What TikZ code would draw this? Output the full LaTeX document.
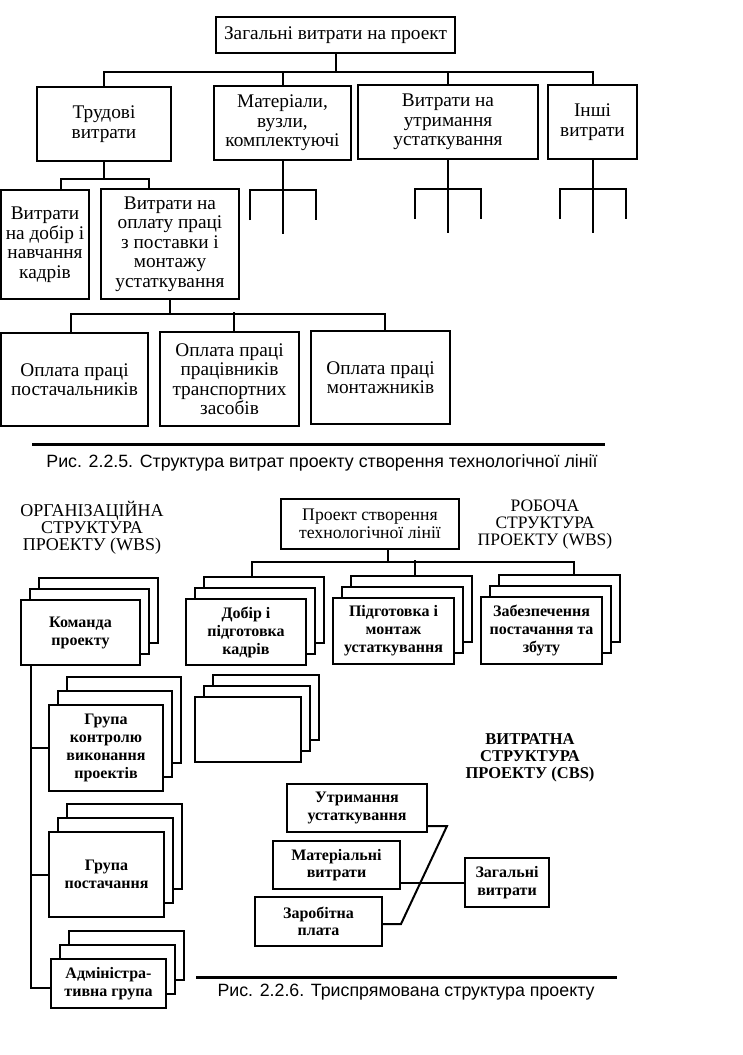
\documentclass[tikz,border=0pt]{standalone}
\usepackage{fontspec}
\setmainfont{Liberation Serif}
\newfontfamily\capfont{Liberation Sans}
\usetikzlibrary{shadows}

\tikzset{
  box/.style={draw, line width=2pt, fill=white, align=center, inner sep=0pt,
    font=\fontsize{19.3}{19.5}\selectfont},
  sheet/.style={box, font=\bfseries\fontsize{16}{18}\selectfont,
    general shadow={shadow xshift=18pt, shadow yshift=2*#1, draw, line width=2pt, fill=white},
    general shadow={shadow xshift=9pt, shadow yshift=#1, draw, line width=2pt, fill=white}},
  sheet/.default=11pt,
  cbs/.style={box, font=\bfseries\fontsize{16}{17.5}\selectfont},
  heading/.style={align=center, inner sep=0pt, font=\fontsize{17.5}{17}\selectfont},
  caption/.style={inner sep=0pt, font=\capfont\fontsize{17.8}{18}\selectfont},
}

\begin{document}
\begin{tikzpicture}[x=1pt, y=-1pt, line width=2pt]
  \useasboundingbox (0,0) rectangle (743,1055);

  % cost structure
  \node [box, minimum width=239pt, minimum height=36pt] (tot) at (335.5,35) {Загальні витрати на проект};
  \node [box, minimum width=134pt, minimum height=74pt] (trud) at (104,124) {Трудові\\витрати};
  \node [box, minimum width=137pt, minimum height=74pt] (mat) at (282.5,123) {Матеріали,\\вузли,\\комплектуючі};
  \node [box, minimum width=180pt, minimum height=74pt] (utr) at (448,122) {Витрати на\\утримання\\устаткування};
  \node [box, minimum width=89pt, minimum height=74pt] (insh) at (592.5,122) {Інші\\витрати};
  \node [box, minimum width=88pt, minimum height=109pt] (dob) at (45,244.5) {Витрати\\на добір і\\навчання\\кадрів};
  \node [box, minimum width=138pt, minimum height=110pt] (opl) at (170,244) {Витрати на\\оплату праці\\з поставки і\\монтажу\\устаткування};
  \node [box, minimum width=147pt, minimum height=93pt] (pos) at (74.5,379.5) {Оплата праці\\постачальників};
  \node [box, minimum width=139pt, minimum height=94pt] (tra) at (229.5,379) {Оплата праці\\працівників\\транспортних\\засобів};
  \node [box, minimum width=139pt, minimum height=93pt] (mon) at (380.5,377.5) {Оплата праці\\монтажників};

  \draw (tot.south) -- ++(0,18) coordinate (bus1);
  \draw (trud.north) |- (bus1) -| (insh.north);
  \draw (mat.north) -- (mat.north |- bus1);
  \draw (utr.north) -- (utr.north |- bus1);

  \draw (trud.south) -- ++(0,17) coordinate (bus2);
  \draw ([xshift=16pt]dob.north) |- (bus2) -| ([xshift=-21pt]opl.north);

  \draw (opl.south) -- ++(0,14) coordinate (bus3);
  \draw ([xshift=-3.5pt]pos.north) |- (bus3) -| ([xshift=4.5pt]mon.north);
  \draw ([xshift=4.5pt]tra.north) -- ++(0,-19);

  \foreach \n in {mat,utr,insh}
    \draw (\n.south) -- ++(0,73) coordinate (\n-m)
      (\n.south) ++(-33,59) coordinate (\n-l) |- ++(33,-30) -| ++(33,30) coordinate (\n-r);

  \draw [line width=3pt] (32,444) -- (605,444);
  \node [caption] (cap1) at (322,463) {Рис. 2.2.5. Структура витрат проекту створення технологічної лінії};

  % three-way structure
  \node [heading, font=\fontsize{18}{17}\selectfont] (ows) at (92,528) {ОРГАНІЗАЦІЙНА\\СТРУКТУРА\\ПРОЕКТУ (WBS)};
  \node [heading] (rws) at (545,525) {РОБОЧА\\СТРУКТУРА\\ПРОЕКТУ (WBS)};
  \node [box, font=\fontsize{17.7}{18}\selectfont, minimum width=178pt, minimum height=50pt] (proj) at (370,524) {Проект створення\\технологічної лінії};

  \node [sheet, minimum width=120pt, minimum height=66pt] (dobir) at (246,632) {Добір і\\підготовка\\кадрів};
  \node [sheet, minimum width=121pt, minimum height=66pt] (pidg) at (393.5,631) {Підготовка і\\монтаж\\устаткування};
  \node [sheet, minimum width=121pt, minimum height=67pt] (zabez) at (541.5,630.5) {Забезпечення\\постачання та\\збуту};
  \node [sheet, minimum width=106pt, minimum height=65pt] (blank) at (248,729.5) {};

  \draw ([xshift=18pt]proj.south) -- ++(0,12) coordinate (bus4);
  \draw ([xshift=6pt,yshift=22pt]dobir.north) |- (bus4) -| ([xshift=32.5pt,yshift=22pt]zabez.north);
  \draw ([xshift=21.5pt,yshift=22pt]pidg.north) -- ++(0,-15);

  \node [sheet, minimum width=119pt, minimum height=65pt] (koman) at (80.5,632.5) {Команда\\проекту};
  \node [sheet=14pt, minimum width=114pt, minimum height=86pt] (kontr) at (106,748) {Група\\контролю\\виконання\\проектів};
  \node [sheet=14pt, minimum width=115pt, minimum height=85pt] (postach) at (106.5,874.5) {Група\\постачання};
  \node [sheet=14pt, minimum width=115pt, minimum height=49pt] (admin) at (108.5,983.5) {Адміністра-\\тивна група};

  \draw ([xshift=-49.5pt]koman.south) coordinate (spine) |- ([yshift=-4.5pt]admin.west);
  \draw (kontr.west) -- (kontr.west -| spine);
  \draw (postach.west) -- (postach.west -| spine);

  \node [heading, font=\bfseries\fontsize{16.5}{17}\selectfont] (cbst) at (530,758) {ВИТРАТНА\\СТРУКТУРА\\ПРОЕКТУ (CBS)};
  \node [cbs, minimum width=140pt, minimum height=48pt] (utrm) at (357,808) {Утримання\\устаткування};
  \node [cbs, minimum width=127pt, minimum height=48pt] (matv) at (336.5,865) {Матеріальні\\витрати};
  \node [cbs, minimum width=127pt, minimum height=49pt] (zarp) at (318.5,921.5) {Заробітна\\плата};
  \node [cbs, minimum width=84pt, minimum height=49pt] (zagv) at (507,882.5) {Загальні\\витрати};

  \draw ([yshift=-18pt]utrm.east) -- ++(19,0) -- ([xshift=18pt,yshift=-2.5pt]zarp.east) -- ([yshift=-2.5pt]zarp.east);
  \draw (zagv.west) -- (zagv.west -| matv.east);

  \draw [line width=3pt] (196,977) -- (617,977);
  \node [caption] (cap2) at (406,992) {Рис. 2.2.6. Триспрямована структура проекту};
\end{tikzpicture}
\end{document}
